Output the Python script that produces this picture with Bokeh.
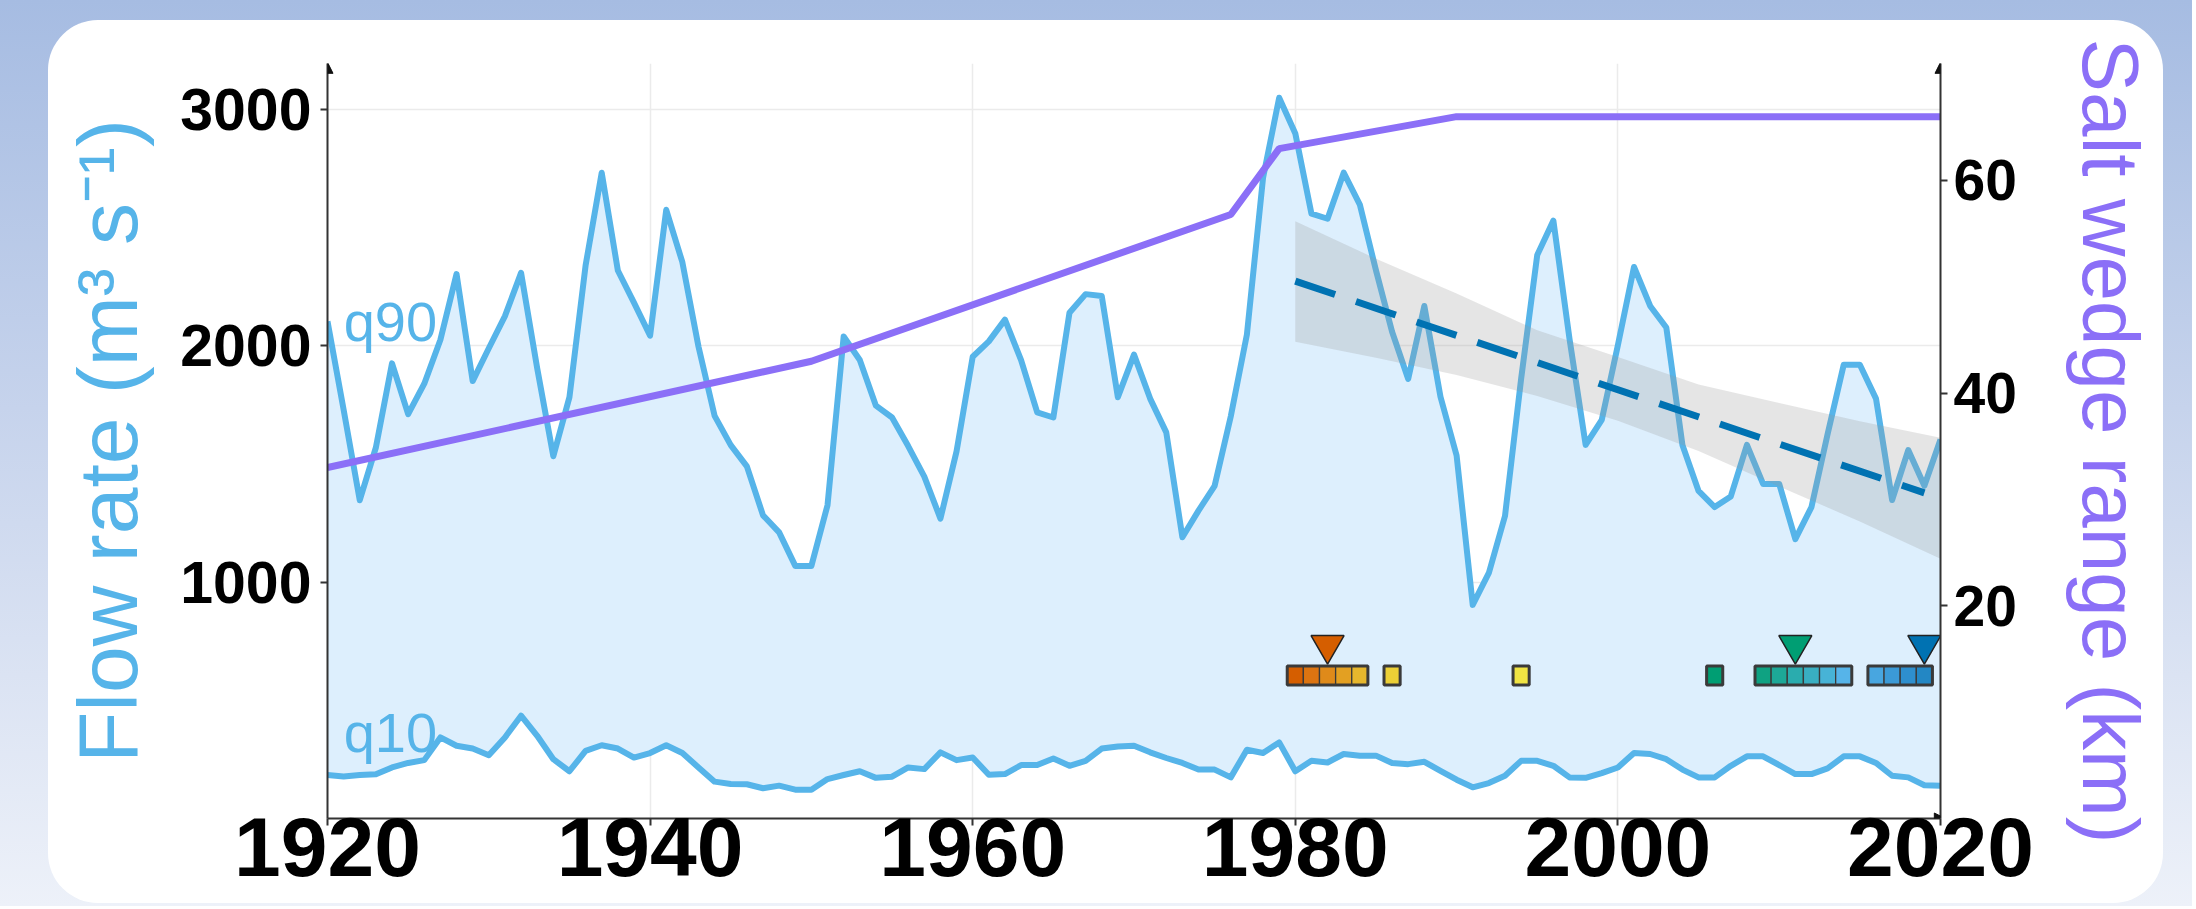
from bokeh.plotting import figure
from bokeh.layouts import column
from bokeh.models import (Range1d, LinearAxis, FixedTicker, Arrow,
                          NormalHead, ColumnDataSource)
from bokeh.core.properties import value
from bokeh.embed import file_html
from bokeh.resources import INLINE

# ---------------- data ----------------
years = list(range(1920, 2021))
q90 = [2104, 1730, 1347, 1570, 1926, 1711, 1840, 2026, 2304, 1851,
       1990, 2126, 2309, 1905, 1533, 1783, 2340, 2733, 2319, 2183,
       2043, 2576, 2354, 1997, 1704, 1580, 1490, 1283, 1211, 1069,
       1069, 1326, 2040, 1940, 1747, 1697, 1576, 1447, 1269, 1554,
       1954, 2019, 2111, 1940, 1719, 1697, 2140, 2219, 2211, 1783,
       1963, 1777, 1634, 1190, 1303, 1408, 1702, 2048, 2711, 3050,
       2899, 2560, 2538, 2733, 2598, 2320, 2060, 1860, 2169, 1785,
       1536, 904, 1039, 1280, 1860, 2385, 2530, 2030, 1581, 1687,
       2003, 2334, 2169, 2078, 1581, 1386, 1318, 1363, 1581, 1416,
       1416, 1182, 1318, 1627, 1920, 1920, 1777, 1348, 1559, 1408,
       1604]
q10 = [184, 178, 184, 187, 216, 235, 247, 343, 308, 296,
       268, 343, 435, 350, 251, 200, 286, 310, 296, 258,
       277, 310, 277, 216, 156, 146, 145, 128, 139, 122,
       122, 167, 184, 200, 172, 177, 216, 209, 280, 247,
       258, 185, 188, 226, 226, 254, 223, 244, 296, 305,
       308, 280, 256, 235, 207, 207, 174, 291, 277, 322,
       200, 244, 237, 273, 266, 266, 235, 230, 240, 202,
       164, 132, 150, 181, 244, 244, 223, 174, 172, 192,
       216, 277, 273, 251, 207, 174, 174, 223, 263, 263,
       226, 188, 188, 212, 263, 263, 235, 181, 174, 141,
       139]

salt_years = [1920, 1950, 1976, 1979, 1990, 2020]
salt_km = [33.0, 43.0, 56.8, 63.0, 66.0, 66.0]

trend_years = [1980, 2019]
trend_vals = [2274, 1378]

band_years = [1980, 1985, 1990, 1995, 2000, 2005, 2010, 2015, 2020]
band_upper = [2527, 2369, 2222, 2066, 1953, 1837, 1758, 1681, 1611]
band_lower = [2018, 1950, 1877, 1788, 1683, 1555, 1405, 1257, 1099]

cell_years = [1980, 1981, 1982, 1983, 1984, 1986, 1994, 2006,
              2009, 2010, 2011, 2012, 2013, 2014, 2016, 2017, 2018, 2019]
cell_colors = ["#d55e00", "#dc7411", "#df8a1a", "#e3a022", "#e6b72d", "#ecd036",
               "#f0e443", "#009e73", "#0fa282", "#1da897", "#2aacae", "#39afc2",
               "#47b3d6", "#56b4e9", "#48a6e0", "#3b9ad7", "#2e8fce", "#2387c4"]
group_start = [1980, 1986, 1994, 2006, 2009, 2016]
group_end = [1984, 1986, 1994, 2006, 2014, 2019]
tri_years = [1982, 2011, 2019]
tri_colors = ["#d55e00", "#009e73", "#0072b2"]

marker_level = 605
triangle_level = 734

x_ticks = [1920, 1940, 1960, 1980, 2000, 2020]
y_ticks = [1000, 2000, 3000]
km_ticks = [20, 40, 60]

Y_MAX = 3195
KM_MAX = 71.0

FLOW = "#56b4e9"
PURPLE = "#8b6ff7"
TREND = "#0072b2"
FONT = "Liberation Sans"

# ---------------- figure (the white card) ----------------
fig = figure(width=2115, height=883, output_backend="svg", toolbar_location=None,
             x_range=Range1d(1920, 2020), y_range=Range1d(0, Y_MAX),
             min_border_left=279, min_border_right=223, min_border_top=43,
             min_border_bottom=85)
fig.extra_y_ranges = {"salt": Range1d(0, KM_MAX)}
fig.styles = {"background-color": "white", "border-radius": "50px"}
fig.margin = (20, 29, 3, 48)
fig.border_fill_alpha = 0
fig.background_fill_color = "white"
fig.outline_line_color = None

# grid
fig.xgrid.ticker = FixedTicker(ticks=x_ticks)
fig.ygrid.ticker = FixedTicker(ticks=y_ticks)
for g in (fig.xgrid, fig.ygrid):
    g.grid_line_color = "#ebebeb"
    g.grid_line_width = 1.5

# axes
def style_axis(ax, size):
    ax.axis_line_color = "#333333"
    ax.axis_line_width = 2
    ax.major_tick_line_color = "#333333"
    ax.major_tick_line_width = 2
    ax.major_tick_out = 7
    ax.major_tick_in = 0
    ax.minor_tick_out = 0
    ax.minor_tick_in = 0
    ax.major_label_text_font = FONT
    ax.major_label_text_font_style = "bold"
    ax.major_label_text_font_size = size
    ax.major_label_text_color = "black"

xa = fig.xaxis[0]
xa.ticker = FixedTicker(ticks=x_ticks)
style_axis(xa, "84px")
xa.major_label_standoff = -8

ya = fig.yaxis[0]
ya.ticker = FixedTicker(ticks=y_ticks)
style_axis(ya, "59px")
ya.major_label_standoff = 9
ya.axis_label = "Flow rate (m³ s⁻¹)"
ya.axis_label_text_font = FONT
ya.axis_label_text_font_style = "normal"
ya.axis_label_text_font_size = "84px"
ya.axis_label_text_color = FLOW
ya.axis_label_standoff = 22

ra = LinearAxis(y_range_name="salt", ticker=FixedTicker(ticks=km_ticks))
style_axis(ra, "57px")
ra.major_label_standoff = 6
ra.axis_label = "Salt wedge range (km)"
ra.axis_label_text_font = FONT
ra.axis_label_text_font_style = "normal"
ra.axis_label_text_font_size = "80px"
ra.axis_label_text_color = PURPLE
ra.axis_label_standoff = 46
fig.add_layout(ra, "right")

# ---------------- marks ----------------
fig.varea(x=years, y1=q10, y2=q90, fill_color="#ddeffd", fill_alpha=1.0)
fig.line(years, q90, line_color=FLOW, line_width=6, line_join="round")
fig.line(years, q10, line_color=FLOW, line_width=6, line_join="round")
fig.line(salt_years, salt_km, y_range_name="salt", line_color=PURPLE, line_width=7)

fig.varea(x=band_years, y1=band_lower, y2=band_upper, fill_color="#999999", fill_alpha=0.25)
fig.line(trend_years, trend_vals, line_color=TREND, line_width=7, line_dash="42 22")

cells = ColumnDataSource(dict(x=cell_years, c=cell_colors,
                              y=[marker_level] * len(cell_years)))
fig.rect(x="x", y="y", width=1, height=80, source=cells, fill_color="c",
         line_color="#3a3a3a", line_width=1.3)
grp = ColumnDataSource(dict(
    x=[(a + b) / 2 for a, b in zip(group_start, group_end)],
    w=[b - a + 1 for a, b in zip(group_start, group_end)],
    y=[marker_level] * len(group_start)))
fig.rect(x="x", y="y", width="w", height=80, source=grp, fill_alpha=0,
         line_color="#3a3a3a", line_width=3)
tris = ColumnDataSource(dict(x=tri_years, c=tri_colors,
                             y=[triangle_level] * len(tri_years)))
fig.scatter(x="x", y="y", source=tris, marker="inverted_triangle", size=33,
            fill_color="c", line_color="#222222", line_width=1.5)

fig.text(x=[1921], y=[2104], text=["q90"], text_font=value(FONT), text_font_size="56px",
         text_color=FLOW, text_baseline="alphabetic", text_align="left")
fig.text(x=[1921], y=[364], text=["q10"], text_font=value(FONT), text_font_size="56px",
         text_color=FLOW, text_baseline="alphabetic", text_align="left")

# axis arrow heads
for xs, ys, xe, ye in [(1920, Y_MAX - 60, 1920, Y_MAX + 5),
                       (2020, Y_MAX - 60, 2020, Y_MAX + 5),
                       (2018, 0, 2020.3, 0)]:
    fig.add_layout(Arrow(end=NormalHead(size=11, fill_color="#111111", line_color="#111111"),
                         x_start=xs, y_start=ys, x_end=xe, y_end=ye, line_alpha=0))

# ---------------- page with gradient background ----------------
p = column(fig, width=2192, height=906,
           styles={"background": "linear-gradient(180deg, #a6bce2 0%, #c6d3ec 45%, #edf1f9 100%)"})

open("out.html", "w").write(file_html(p, INLINE))
